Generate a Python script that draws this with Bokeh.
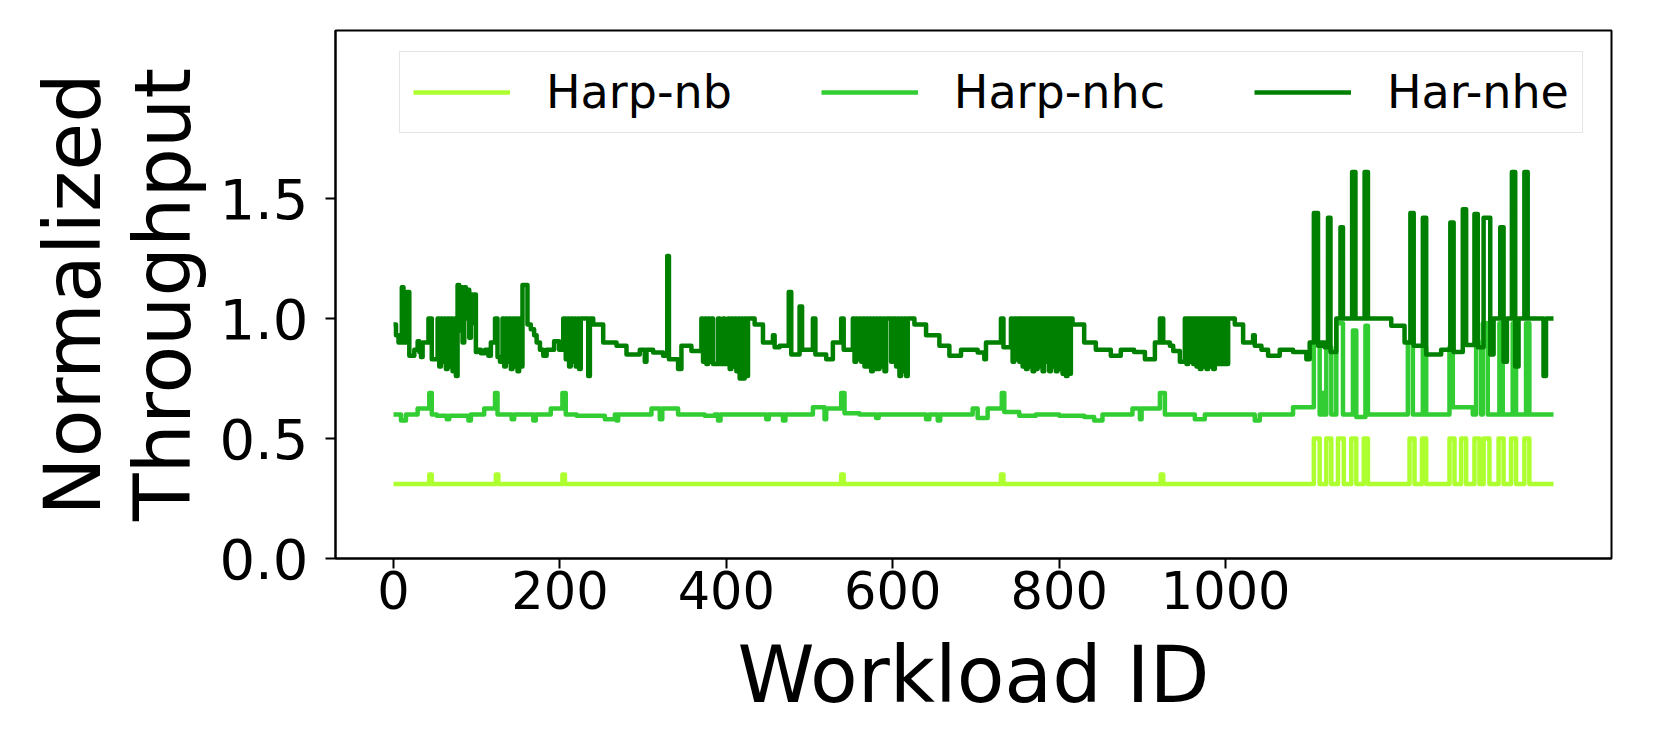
from bokeh.plotting import figure
from bokeh.models import Range1d, FixedTicker, PrintfTickFormatter, Legend, LegendItem
from bokeh.embed import file_html
from bokeh.resources import INLINE

# ---- data: step breakpoints (workload id where a value starts, value) ----
NB_X = [0, 43, 46, 123, 126, 203, 206, 538, 541, 730, 733, 922, 925,
        1106, 1113, 1121, 1127, 1135, 1142, 1151, 1157, 1166, 1171,
        1221, 1227, 1236, 1241, 1269, 1275, 1283, 1289, 1299, 1305,
        1310, 1317, 1328, 1334, 1343, 1349, 1359, 1365, 1394]
NB_Y = [0.31, 0.35, 0.31, 0.35, 0.31, 0.35, 0.31, 0.35, 0.31, 0.35, 0.31, 0.35, 0.31,
        0.50, 0.31, 0.50, 0.31, 0.50, 0.31, 0.50, 0.31, 0.50, 0.31,
        0.50, 0.31, 0.50, 0.31, 0.50, 0.31, 0.50, 0.31, 0.50, 0.31,
        0.50, 0.31, 0.50, 0.31, 0.50, 0.31, 0.50, 0.31, 0.31]

NHC_X = [0, 9, 15, 29, 43, 46, 52, 64, 67, 90, 93, 109, 122, 125, 142, 145, 168, 171,
         189, 203, 207, 220, 254, 266, 268, 270, 310, 320, 323, 342, 374, 386, 390, 393,
         448, 451, 468, 471, 504, 518, 520, 538, 542, 560, 580, 583, 640, 644, 654, 657,
         696, 702, 714, 731, 734, 752, 772, 800, 830, 842, 852, 888, 897, 899, 921, 927,
         963, 975, 1035, 1041, 1081, 1106, 1113, 1116, 1119, 1121, 1127, 1133, 1141,
         1153, 1157, 1168, 1171, 1219, 1225, 1237, 1241, 1269, 1273, 1297, 1301, 1307,
         1309, 1315, 1329, 1333, 1345, 1349, 1361, 1365, 1394]
NHC_Y = [0.60, 0.575, 0.60, 0.625, 0.69, 0.60, 0.595, 0.58, 0.595, 0.575, 0.60, 0.625, 0.69, 0.60, 0.58, 0.60, 0.575, 0.60,
         0.625, 0.69, 0.60, 0.595, 0.58, 0.60, 0.575, 0.60, 0.625, 0.58, 0.625, 0.60, 0.595, 0.60, 0.575, 0.60,
         0.58, 0.60, 0.575, 0.60, 0.63, 0.58, 0.625, 0.69, 0.605, 0.60, 0.585, 0.60, 0.58, 0.60, 0.575, 0.60,
         0.625, 0.585, 0.625, 0.69, 0.61, 0.595, 0.60, 0.595, 0.59, 0.575, 0.60, 0.625, 0.58, 0.625, 0.69, 0.60,
         0.58, 0.60, 0.575, 0.60, 0.63, 0.90, 0.60, 0.69, 0.60, 0.88, 0.60, 0.98, 0.60,
         0.95, 0.59, 0.97, 0.60, 0.90, 0.60, 0.88, 0.60, 0.88, 0.63, 0.60, 0.90, 0.60,
         0.98, 0.60, 0.98, 0.60, 0.98, 0.60, 0.98, 0.60, 0.60]

NHE_X = [0, 3, 6, 10, 12, 16, 19, 25, 29, 31, 33, 35, 42, 46,
         53, 55, 57, 59, 61, 63, 65, 67, 69, 71, 73, 75,
         77, 79, 81, 83, 85, 87, 89, 91, 93, 95, 97, 99,
         101, 105, 110, 114, 117, 122, 125, 128,
         131, 133, 135, 137, 139, 141, 143, 145, 147, 149, 151, 153,
         155, 161, 165, 169, 172, 176, 180, 184, 193, 199, 204, 207,
         209, 211, 213, 215, 217, 219, 221, 223,
         225, 234, 236, 240, 252, 268, 280, 296, 302, 304, 312, 324, 329, 331, 342, 346, 358,
         370, 372, 374, 376, 378, 380, 382, 384,
         386, 390, 392, 396, 398, 402, 404,
         406, 408, 410, 412, 414, 416, 418, 420, 422, 424,
         426, 434, 444, 456, 458, 464, 475, 478, 488, 491, 504, 507, 520, 528, 538, 541,
         552, 554, 556, 558, 560, 562, 564, 566, 568, 570, 572, 574, 576, 578, 580, 582,
         584, 586, 588, 590, 592, 598, 600, 604, 606, 608, 610, 612, 614, 616, 618,
         626, 640, 656, 668, 682, 702, 710, 712, 730, 733,
         742, 744, 746, 748, 750, 752, 754, 756, 758, 760, 762, 764, 766, 768, 770, 772,
         774, 776, 778, 780, 782, 784, 786, 788, 790, 792, 794, 796, 798, 800, 802, 804,
         806, 808, 810, 812, 814,
         816, 830, 844, 862, 874, 890, 903, 915, 921, 925, 933, 937, 945,
         951, 953, 955, 957, 959, 961, 963, 965, 967, 969, 971, 973, 975, 977, 979, 981,
         983, 985, 987, 989, 991, 993, 995, 997, 999, 1001, 1003,
         1011, 1021, 1033, 1035, 1043, 1051, 1065, 1081, 1097, 1101,
         1106, 1111, 1115, 1119, 1123, 1126, 1133, 1138, 1141, 1152, 1156, 1167, 1171,
         1199, 1215, 1222, 1226, 1237, 1241, 1259, 1270, 1274, 1285, 1289, 1299, 1303,
         1310, 1318, 1322, 1330, 1334, 1338, 1344, 1348, 1352, 1359, 1363, 1382, 1385, 1394]
NHE_Y = [0.975, 0.93, 0.90, 1.13, 0.90, 1.11, 0.845, 0.87, 0.905, 0.86, 0.84, 0.90, 1.0, 0.83,
         1.0, 0.80, 1.0, 0.82, 1.0, 0.79, 1.0, 0.80, 1.0, 0.78, 1.0, 0.76,
         1.14, 0.95, 1.13, 0.90, 1.13, 1.0, 1.12, 0.92, 1.10, 0.98, 1.10, 0.86,
         0.87, 0.855, 0.87, 0.845, 0.90, 1.0, 0.84, 0.82,
         1.0, 0.80, 1.0, 0.82, 1.0, 0.79, 1.0, 0.80, 1.0, 0.78, 1.0, 0.80,
         1.14, 0.975, 0.955, 0.93, 0.90, 0.87, 0.845, 0.87, 0.905, 0.87, 1.0, 0.83,
         1.0, 0.80, 1.0, 0.82, 1.0, 0.80, 1.0, 0.79,
         1.0, 0.76, 1.0, 0.975, 0.90, 0.886, 0.85, 0.87, 0.82, 0.87, 0.858, 0.845, 1.26, 0.83, 0.79, 0.886, 0.865,
         1.0, 0.82, 1.0, 0.81, 1.0, 0.82, 1.0, 0.81,
         0.81, 1.0, 0.81, 1.0, 0.81, 1.0, 0.79,
         1.0, 0.80, 1.0, 0.78, 1.0, 0.75, 1.0, 0.75, 1.0, 0.76,
         1.0, 0.975, 0.90, 0.93, 0.88, 0.886, 1.11, 0.85, 1.05, 0.87, 1.0, 0.85, 0.83, 0.90, 1.0, 0.87,
         1.0, 0.82, 1.0, 0.83, 1.0, 0.82, 1.0, 0.80, 1.0, 0.80, 1.0, 0.78, 1.0, 0.79, 1.0, 0.79,
         1.0, 0.80, 1.0, 0.78, 1.0, 0.82, 1.0, 0.80, 1.0, 0.76, 1.0, 0.78, 1.0, 0.76, 1.0,
         0.975, 0.93, 0.886, 0.845, 0.87, 0.858, 0.83, 0.90, 1.0, 0.88,
         1.0, 0.82, 1.0, 0.83, 1.0, 0.82, 1.0, 0.80, 1.0, 0.79, 1.0, 0.80, 1.0, 0.78, 1.0, 0.79,
         1.0, 0.80, 1.0, 0.78, 1.0, 0.82, 1.0, 0.78, 1.0, 0.80, 1.0, 0.78, 1.0, 0.79, 1.0, 0.77,
         1.0, 0.76, 1.0, 0.77, 1.0,
         0.975, 0.90, 0.87, 0.845, 0.87, 0.86, 0.83, 0.90, 1.0, 0.90, 0.886, 0.865, 0.82,
         1.0, 0.81, 1.0, 0.82, 1.0, 0.81, 1.0, 0.80, 1.0, 0.79, 1.0, 0.80, 1.0, 0.79, 1.0, 0.80,
         1.0, 0.79, 1.0, 0.81, 1.0, 0.81, 1.0, 0.81, 1.0, 0.81, 1.0,
         0.975, 0.90, 0.93, 0.886, 0.87, 0.845, 0.87, 0.86, 0.83, 0.90,
         1.44, 0.886, 0.90, 0.88, 1.42, 0.86, 1.0, 1.38, 1.0, 1.61, 1.0, 1.61, 1.0,
         0.97, 0.90, 1.44, 0.886, 1.42, 0.85, 0.87, 1.40, 0.86, 1.455, 0.89, 1.435, 0.88,
         1.42, 0.85, 1.0, 1.38, 0.82, 1.0, 1.61, 0.80, 1.0, 1.61, 1.0, 0.76, 1.0, 1.0]

SERIES = ["Harp-nb", "Harp-nhc", "Har-nhe"]
COLORS = ["#ADFF2F", "#32CD32", "#008000"]
X_TICKS = [0, 200, 400, 600, 800, 1000]
Y_TICKS = [0.0, 0.5, 1.0, 1.5]

FONT = "DejaVu Sans"

p = figure(width=1645, height=722, output_backend="svg", toolbar_location=None,
           x_range=Range1d(-69.7, 1463.7), y_range=Range1d(0, 2.2),
           min_border_left=335, min_border_right=34, min_border_top=30, min_border_bottom=163)
p.background_fill_color = "white"
p.border_fill_color = "white"
p.grid.visible = False
p.outline_line_color = "black"
p.outline_line_width = 2

renderers = []
for xs, ys, c in [(NB_X, NB_Y, COLORS[0]), (NHC_X, NHC_Y, COLORS[1]), (NHE_X, NHE_Y, COLORS[2])]:
    r = p.step(xs, ys, mode="after", line_color=c, line_width=4.5, line_join="round")
    renderers.append(r)

for ax in (p.xaxis[0], p.yaxis[0]):
    ax.axis_line_color = "black"
    ax.axis_line_width = 2
    ax.major_tick_line_color = "black"
    ax.major_tick_line_width = 2
    ax.major_tick_out = 10
    ax.major_tick_in = 0
    ax.minor_tick_line_color = None
    ax.major_label_text_font = FONT
    ax.major_label_text_color = "black"
    ax.axis_label_text_font = FONT
    ax.axis_label_text_font_size = "78px"
    ax.axis_label_text_font_style = "normal"
    ax.axis_label_text_color = "black"
    ax.axis_label_text_line_height = 1.0

p.xaxis.major_label_text_font_size = "51px"
p.yaxis.major_label_text_font_size = "56px"
p.xaxis.ticker = FixedTicker(ticks=X_TICKS)
p.yaxis.ticker = FixedTicker(ticks=Y_TICKS)
p.yaxis.formatter = PrintfTickFormatter(format="%.1f")
p.xaxis.axis_label = "Workload ID"
p.yaxis.axis_label = "Normalized\nThroughput"
p.xaxis.major_label_standoff = 2
p.yaxis.major_label_standoff = 17
p.xaxis.axis_label_standoff = 18
p.yaxis.axis_label_standoff = 8

legend = Legend(items=[LegendItem(label=s, renderers=[r]) for s, r in zip(SERIES, renderers)],
                orientation="horizontal", location=(64, 425))
legend.label_text_font = FONT
legend.label_text_font_size = "46px"
legend.label_text_color = "black"
legend.glyph_width = 97
legend.glyph_height = 40
legend.label_standoff = 36
legend.spacing = 89
legend.padding = 13
legend.margin = 0
legend.border_line_color = "#cccccc"
legend.border_line_width = 1.5
legend.background_fill_alpha = 0.8
p.add_layout(legend)

open("out.html", "w").write(file_html(p, INLINE))
